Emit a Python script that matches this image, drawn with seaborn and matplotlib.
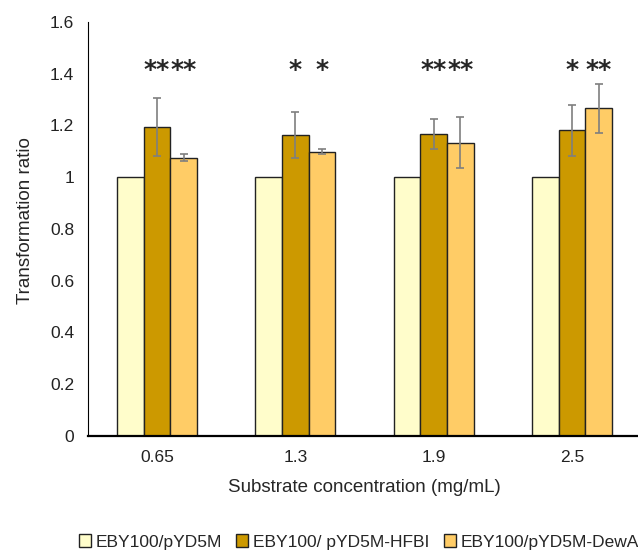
import numpy as np
import pandas as pd
import matplotlib
matplotlib.use("Agg")
import matplotlib.pyplot as plt
import seaborn as sns

# data
concentrations = ["0.65", "1.3", "1.9", "2.5"]
strains = ["EBY100/pYD5M", "EBY100/ pYD5M-HFBI", "EBY100/pYD5M-DewA"]
ratio_control = [1.0, 1.0, 1.0, 1.0]
ratio_hfbi = [1.195, 1.164, 1.168, 1.182]
ratio_dewa = [1.076, 1.098, 1.134, 1.266]
err_hfbi = [0.113, 0.089, 0.057, 0.098]
err_dewa = [0.015, 0.010, 0.097, 0.095]
stars_hfbi = ["**", "*", "**", "*"]
stars_dewa = ["**", "*", "**", "**"]
star_level = 1.415

colors = ["#FFFDCB", "#CC9900", "#FFCC66"]

sns.set_style("white")
plt.rcParams["font.family"] = ["Liberation Sans", "DejaVu Sans"]

df = pd.DataFrame({
    "conc": concentrations * 3,
    "strain": [strains[0]] * 4 + [strains[1]] * 4 + [strains[2]] * 4,
    "ratio": ratio_control + ratio_hfbi + ratio_dewa,
})

fig = plt.figure(figsize=(6.38, 5.5), dpi=100)
ax = fig.add_axes([88 / 638, 114 / 550, (641 - 88) / 638, 414 / 550])

sns.barplot(data=df, x="conc", y="ratio", hue="strain", hue_order=strains,
            palette=colors, saturation=1, width=0.58, errorbar=None,
            edgecolor="#222222", linewidth=1.0, ax=ax, legend=True)

# error bars and stars on top of HFBI / DewA bars
for cont, errs, stars in [(ax.containers[1], err_hfbi, stars_hfbi),
                          (ax.containers[2], err_dewa, stars_dewa)]:
    xs = [p.get_x() + p.get_width() / 2 for p in cont.patches]
    ys = [p.get_height() for p in cont.patches]
    ax.errorbar(xs, ys, yerr=errs, fmt="none", ecolor="#7F7F7F",
                elinewidth=1.2, capsize=3, capthick=1.2)
    for x, s in zip(xs, stars):
        ax.text(x, star_level, s, ha="center", va="center", fontsize=18,
                fontweight="bold", family="DejaVu Sans")

ax.set_xlim(-0.5, 3.5)
ax.set_ylim(0, 1.6)
ax.set_yticks(np.arange(0, 1.61, 0.2))
ax.set_yticklabels(["0", "0.2", "0.4", "0.6", "0.8", "1", "1.2", "1.4", "1.6"])
ax.tick_params(axis="y", length=0, labelsize=12.5, colors="#222222", pad=10)
ax.tick_params(axis="x", length=0, labelsize=12.5, colors="#222222", pad=10)
ax.set_xlabel("Substrate concentration (mg/mL)", fontsize=13.5)
ax.set_ylabel("Transformation ratio", fontsize=13.5)
ax.xaxis.set_label_coords(0.5, -0.103)
ax.yaxis.set_label_coords(-0.098, 0.52)
for side in ["top", "right"]:
    ax.spines[side].set_visible(False)
ax.spines["left"].set_linewidth(0.8)
ax.spines["left"].set_color("black")
ax.spines["bottom"].set_linewidth(1.6)
ax.spines["bottom"].set_color("black")

handles, labels = ax.get_legend_handles_labels()
ax.get_legend().remove()
fig.legend(handles, labels, loc="center", bbox_to_anchor=(359 / 638, 8 / 550),
           ncol=3, frameon=False, fontsize=12.5, handlelength=0.7,
           handleheight=0.7, handletextpad=0.3, columnspacing=0.8)

fig.savefig("out.png", dpi=100)
